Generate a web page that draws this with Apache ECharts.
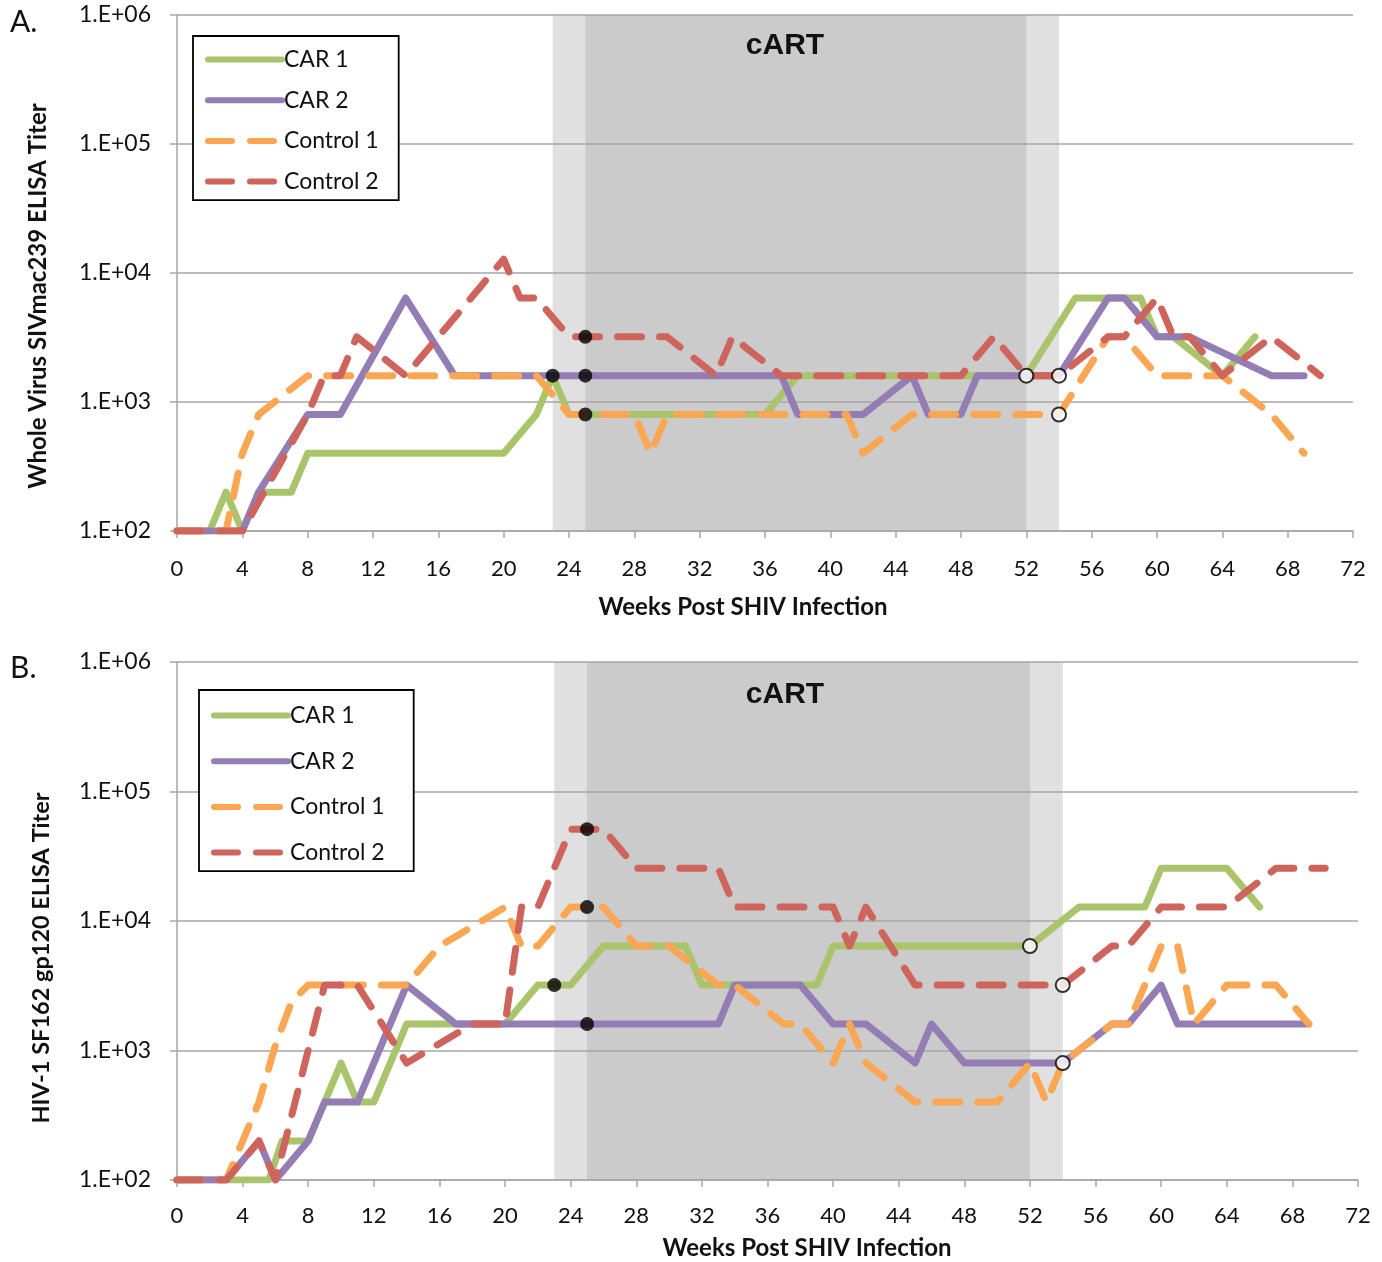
<!DOCTYPE html>
<html><head><meta charset="utf-8">
<script src="https://cdn.jsdelivr.net/npm/echarts@6/dist/echarts.min.js"></script>
<style>html,body{margin:0;padding:0;background:#fff}#c{width:1382px;height:1262px}</style>
</head><body><div id="c"></div>
<script>
// ---------- data ----------
const seriesNames = ['CAR 1', 'CAR 2', 'Control 1', 'Control 2'];
const yTickLabels = ['1.E+02', '1.E+03', '1.E+04', '1.E+05', '1.E+06'];
const panelLetters = ['A.', 'B.'];
const yTitles = ['Whole Virus SIVmac239 ELISA Titer', 'HIV-1 SF162 gp120 ELISA Titer'];
const xTitle = 'Weeks Post SHIV Infection';
const shadeLabel = 'cART';
const lightShade = [23, 54];
const darkShade = [25, 52];

// Panel A: whole virus SIVmac239 titers  [week, titer]
const A_car1 = [[0,100],[2,100],[3,200],[4,100],[5,200],[7,200],[8,400],[20,400],[22,800],[23,1600],[24,800],[36,800],[38,1600],[52,1600],[55,6400],[59,6400],[60,3200],[61,3200],[64,1600],[66,3200]];
const A_car2 = [[0,100],[4,100],[5,200],[8,800],[10,800],[14,6400],[17,1600],[37,1600],[38,800],[42,800],[45,1600],[46,800],[48,800],[49,1600],[54,1600],[57,6400],[58,6400],[60,3200],[62,3200],[67,1600],[69,1600]];
const A_ctrl1 = [[0,100],[3,100],[4,400],[5,800],[8,1600],[22,1600],[24,800],[28,800],[29,400],[30,800],[41,800],[42,400],[45,800],[54,800],[57,3200],[58,3200],[60,1600],[64,1600],[67,800],[69,400]];
const A_ctrl2 = [[0,100],[4,100],[8,800],[9,1600],[10,1600],[11,3200],[14,1600],[20,12800],[21,6400],[22,6400],[24,3200],[30,3200],[33,1600],[34,3200],[37,1600],[48,1600],[50,3200],[52,1600],[54,1600],[57,3200],[58,3200],[60,6400],[61,3200],[62,3200],[64,1600],[67,3200],[70,1600]];
const A_start = [[23,1600],[25,3200],[25,1600],[25,800]];
const A_end = [[52,1600],[54,1600],[54,800]];

// Panel B: HIV-1 SF162 gp120 titers
const B_car1 = [[0,100],[5.6,100],[6.4,200],[8,200],[9,400],[10,800],[11,400],[12,400],[14,1600],[20,1600],[22,3200],[24,3200],[26,6400],[31,6400],[32,3200],[39,3200],[40,6400],[52,6400],[55,12800],[59,12800],[60,25600],[64,25600],[66,12800]];
const B_car2 = [[0,100],[3,100],[5,200],[6,100],[8,200],[9,400],[11,400],[14,3200],[17,1600],[33,1600],[34,3200],[38,3200],[40,1600],[42,1600],[45,800],[46,1600],[48,800],[54,800],[57,1600],[58,1600],[60,3200],[61,1600],[69,1600]];
const B_ctrl1 = [[0,100],[3,100],[4,200],[5,400],[6,1100],[7,2400],[8,3200],[14,3200],[16,6400],[20,12800],[21,6400],[22,6400],[24,12800],[26,12800],[28,6400],[30,6400],[33,3200],[34,3200],[37,1600],[38,1600],[40,800],[41,1600],[42,800],[45,400],[50,400],[52,800],[53,400],[54,800],[57,1600],[58,1600],[60,6400],[61,6400],[62,1600],[64,3200],[67,3200],[69,1600]];
const B_ctrl2 = [[0,100],[3,100],[5,200],[6,100],[9,3200],[11,3200],[14,800],[18,1600],[20,1600],[21,12800],[22,12800],[24,51200],[26,51200],[28,25600],[33,25600],[34,12800],[40,12800],[41,6400],[42,12800],[45,3200],[54,3200],[57,6400],[58,6400],[60,12800],[64,12800],[67,25600],[70,25600]];
const B_start = [[23,3200],[25,51200],[25,12800],[25,1600]];
const B_end = [[52,6400],[54,3200],[54,800]];

// ---------- styling ----------
const colors = ['#aac46c', '#947cb4', '#faa652', '#ce645c'];
const dashed = [false, false, true, true];
const DASH = [24, 18];
const LW = 7;
const FONT = 'Lato, "Liberation Sans", sans-serif';
const gridCol = '#a6a6a6';

const chart = echarts.init(document.getElementById('c'), null, {renderer: 'canvas'});

const grids = [
  {left: 177, top: 15, width: 1176, height: 516},
  {left: 177, top: 662, width: 1181, height: 518}
];

function xAx(i, margin) {
  return {
    type: 'value', gridIndex: i, min: 0, max: 72, interval: 4, z: 1.5,
    axisLine: {show: true, lineStyle: {color: gridCol, width: 1.5}},
    axisTick: {show: true, length: 7, lineStyle: {color: gridCol, width: 1.5}},
    splitLine: {show: false},
    axisLabel: {margin, fontFamily: FONT, fontSize: 22, color: '#111'}
  };
}
function yAx(i) {
  return {
    type: 'log', gridIndex: i, min: 100, max: 1000000, logBase: 10, z: 1.5,
    axisLine: {show: true, onZero: false, lineStyle: {color: gridCol, width: 1.5}},
    axisTick: {show: true, length: 7, lineStyle: {color: gridCol, width: 1.5}},
    splitLine: {show: true, lineStyle: {color: gridCol, width: 1.5}},
    minorTick: {show: false},
    axisLabel: {
      margin: 26, fontFamily: FONT, fontSize: 23, color: '#111',
      formatter: v => yTickLabels[Math.round(Math.log10(v)) - 2]
    }
  };
}

function lineSeries(k, data, gi) {
  return {
    name: seriesNames[k], type: 'line', xAxisIndex: gi, yAxisIndex: gi, data,
    symbol: 'none', z: 2, animation: false, silent: true,
    itemStyle: {color: colors[k]},
    lineStyle: {color: colors[k], width: LW, cap: 'round', join: 'round',
      type: dashed[k] ? DASH : 'solid'}
  };
}
function markerSeries(data, gi, filled, withShade) {
  const s = {
    type: 'scatter', xAxisIndex: gi, yAxisIndex: gi, data, z: 5, animation: false, silent: true,
    symbol: 'circle', symbolSize: 14,
    itemStyle: {color: filled ? '#000' : '#fff', borderColor: '#000', borderWidth: filled ? 0 : 2}
  };
  if (withShade) {
    s.markArea = {
      silent: true, z: 1,
      data: [
        [{xAxis: lightShade[0], itemStyle: {color: '#e0e0e0'}}, {xAxis: lightShade[1]}],
        [{xAxis: darkShade[0], itemStyle: {color: '#cbcbcb'}}, {xAxis: darkShade[1]}]
      ]
    };
  }
  return s;
}

const panelData = [
  [A_car1, A_car2, A_ctrl1, A_ctrl2, A_start, A_end],
  [B_car1, B_car2, B_ctrl1, B_ctrl2, B_start, B_end]
];
const series = [];
panelData.forEach((pd, gi) => {
  for (let k = 0; k < 4; k++) series.push(lineSeries(k, pd[k], gi));
  series.push(markerSeries(pd[4], gi, true, true));
  series.push(markerSeries(pd[5], gi, false, false));
});

function legendFor(left, top, gap, padT, padR) {
  return {
    data: seriesNames, orient: 'vertical', left, top, itemWidth: 74, itemHeight: 14, itemGap: gap,
    padding: [padT, padR, 7, 12], borderColor: '#000', borderWidth: 1.8, backgroundColor: '#fff',
    lineStyle: {width: 6, cap: 'round'},
    itemStyle: {opacity: 0},
    textStyle: {fontFamily: FONT, fontSize: 23, color: '#111', padding: [0, 0, 0, -3]},
    selectedMode: false
  };
}

const graphic = [
  {type: 'text', x: 10, y: 22, style: {text: panelLetters[0], font: '30px ' + FONT, fill: '#111', textVerticalAlign: 'middle'}},
  {type: 'text', x: 10, y: 668, style: {text: panelLetters[1], font: '30px ' + FONT, fill: '#111', textVerticalAlign: 'middle'}},
  {type: 'text', x: 785, y: 46, z: 10, style: {text: shadeLabel, font: 'bold 30px "Liberation Sans", Arial, sans-serif', fill: '#111', textAlign: 'center', textVerticalAlign: 'middle'}},
  {type: 'text', x: 785, y: 695, z: 10, style: {text: shadeLabel, font: 'bold 30px "Liberation Sans", Arial, sans-serif', fill: '#111', textAlign: 'center', textVerticalAlign: 'middle'}},
  {type: 'text', x: 743, y: 607, style: {text: xTitle, font: 'bold 24px ' + FONT, fill: '#111', textAlign: 'center', textVerticalAlign: 'middle'}},
  {type: 'text', x: 807, y: 1248, style: {text: xTitle, font: 'bold 24px ' + FONT, fill: '#111', textAlign: 'center', textVerticalAlign: 'middle'}},
  {type: 'text', x: 38, y: 296, rotation: Math.PI / 2, style: {text: yTitles[0], font: 'bold 24px ' + FONT, fill: '#111', textAlign: 'center', textVerticalAlign: 'middle'}},
  {type: 'text', x: 41, y: 958, rotation: Math.PI / 2, style: {text: yTitles[1], font: 'bold 23.5px ' + FONT, fill: '#111', textAlign: 'center', textVerticalAlign: 'middle'}}
];

chart.setOption({
  animation: false,
  grid: grids,
  xAxis: [xAx(0, 27), xAx(1, 25)],
  yAxis: [yAx(0), yAx(1)],
  legend: [legendFor(193, 36, 17.7, 12, 20), legendFor(199, 690, 22.7, 14, 29)],
  series,
  graphic
});
</script>
</body></html>
